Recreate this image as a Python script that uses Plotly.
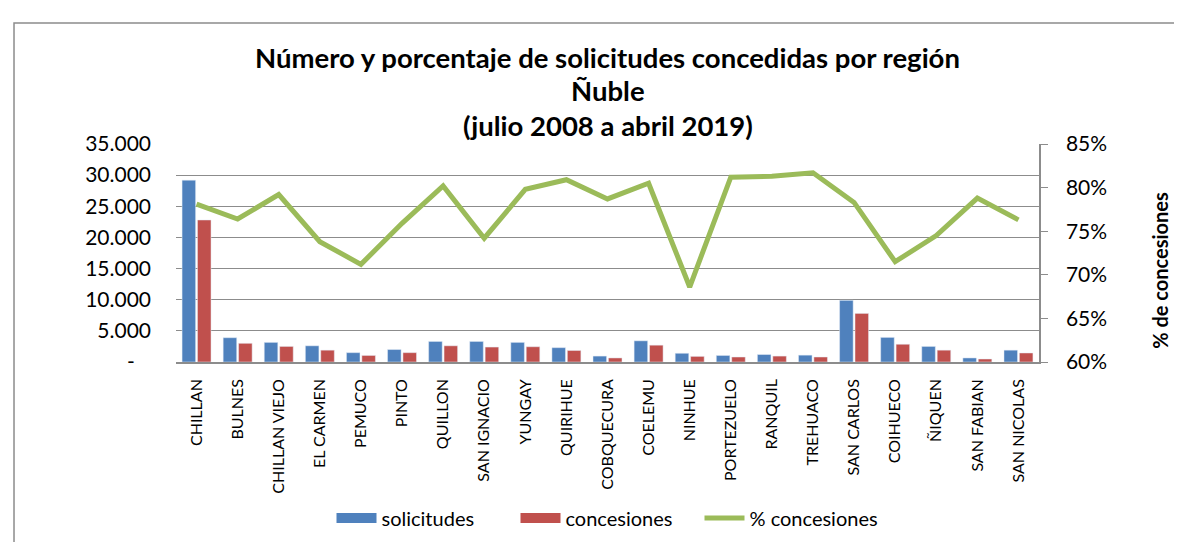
import plotly.graph_objects as go

comunas = ["CHILLAN", "BULNES", "CHILLAN VIEJO", "EL CARMEN", "PEMUCO", "PINTO", "QUILLON",
           "SAN IGNACIO", "YUNGAY", "QUIRIHUE", "COBQUECURA", "COELEMU", "NINHUE", "PORTEZUELO",
           "RANQUIL", "TREHUACO", "SAN CARLOS", "COIHUECO", "ÑIQUEN", "SAN FABIAN", "SAN NICOLAS"]
solicitudes = [29200, 3900, 3150, 2600, 1500, 2000, 3300, 3300, 3150, 2300, 950, 3400, 1400,
               1050, 1200, 1100, 9900, 3950, 2500, 650, 1900]
concesiones = [22800, 3000, 2500, 1900, 1050, 1500, 2600, 2400, 2450, 1850, 650, 2700, 900,
               800, 950, 800, 7800, 2850, 1900, 480, 1450]
pct_concesiones = [78.1, 76.4, 79.2, 73.8, 71.2, 75.9, 80.2, 74.2, 79.8, 80.9, 78.7, 80.5, 68.6,
                   81.2, 81.3, 81.7, 78.3, 71.5, 74.5, 78.8, 76.3]

left_ticks = [0, 5000, 10000, 15000, 20000, 25000, 30000, 35000]
left_ticktext = ["-\u00a0\u00a0\u00a0", "5.000", "10.000", "15.000", "20.000", "25.000",
                 "30.000", "35.000"]
right_ticks = [60, 65, 70, 75, 80, 85]
right_ticktext = ["60%", "65%", "70%", "75%", "80%", "85%"]

title_lines = ["Número y porcentaje de solicitudes concedidas por región", "Ñuble",
               "(julio 2008 a abril 2019)"]

BLUE = "#4F81BD"
RED = "#C0504D"
GREEN = "#9BBB59"
GRID = "#8C8C8C"
FONT = "Lato"

fig = go.Figure()
fig.add_trace(go.Bar(x=comunas, y=solicitudes, name="solicitudes", marker_color=BLUE,
                     showlegend=False, yaxis="y"))
fig.add_trace(go.Bar(x=comunas, y=concesiones, name="concesiones", marker_color=RED,
                     showlegend=False, yaxis="y"))
fig.add_trace(go.Scatter(x=comunas, y=pct_concesiones, name="% concesiones", mode="lines",
                         line=dict(color=GREEN, width=5), yaxis="y2", showlegend=False))
# legend entries
fig.add_trace(go.Scatter(x=[None], y=[None], mode="lines", name="solicitudes",
                         line=dict(color=BLUE, width=12), yaxis="y"))
fig.add_trace(go.Scatter(x=[None], y=[None], mode="lines", name="concesiones",
                         line=dict(color=RED, width=12), yaxis="y"))
fig.add_trace(go.Scatter(x=[None], y=[None], mode="lines", name="% concesiones",
                         line=dict(color=GREEN, width=5), yaxis="y"))

annotations = []
for txt, yy in zip(title_lines, [1.395, 1.244, 1.084]):
    annotations.append(dict(text="<b>%s</b>" % txt, x=0.5, y=yy, xref="paper", yref="paper",
                            xanchor="center", yanchor="middle", showarrow=False,
                            font=dict(family=FONT, size=27.5, color="#000000")))
annotations.append(dict(text="<b>% de concesiones</b>", x=1.140, y=0.422, xref="paper",
                        yref="paper", textangle=-90, showarrow=False, xanchor="center",
                        yanchor="middle", font=dict(family=FONT, size=20, color="#000000")))

fig.update_layout(
    width=1182, height=542,
    margin=dict(l=168, r=151, t=136, b=181),
    paper_bgcolor="white", plot_bgcolor="white",
    font=dict(family=FONT, color="#000000"),
    barmode="group", bargap=0.25, bargroupgap=0.12,
    annotations=annotations,
    xaxis=dict(type="category", tickangle=-90, tickfont=dict(size=16), showgrid=False,
               showline=True, linecolor=GRID, linewidth=1.5, ticks="", ticklabelstandoff=9),
    yaxis=dict(range=[0, 35000], tickvals=left_ticks, ticktext=left_ticktext,
               tickfont=dict(size=21), showgrid=True, gridcolor=GRID, gridwidth=1,
               showline=False, zeroline=False, ticks="", ticklabelstandoff=24),
    yaxis2=dict(range=[60, 85], tickvals=right_ticks, ticktext=right_ticktext, overlaying="y",
                side="right", tickfont=dict(size=21), showgrid=False, showline=True,
                linecolor=GRID, linewidth=1.5, ticks="outside", ticklen=7, tickcolor=GRID,
                zeroline=False, ticklabelstandoff=14),
    legend=dict(orientation="h", x=0.5, xanchor="center", y=-0.716, yanchor="middle",
                font=dict(size=20), itemwidth=40, traceorder="normal", entrywidth=129,
                entrywidthmode="pixels"),
    shapes=[dict(type="rect", xref="paper", yref="paper", x0=-0.1877, x1=1.19, y0=-0.83,
                 y1=1.5556, line=dict(color="#8C8C8C", width=1.5), fillcolor="rgba(0,0,0,0)",
                 layer="below")],
)

fig.write_html("out.html")
